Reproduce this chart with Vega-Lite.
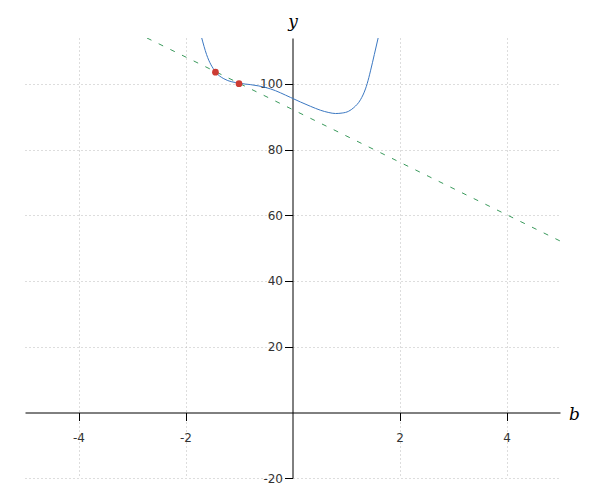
{
  "$schema": "https://vega.github.io/schema/vega-lite/v6.json",
  "width": 535,
  "height": 440,
  "autosize": {"type": "none"},
  "padding": {"left": 25, "top": 38, "right": 40, "bottom": 22},
  "background": "white",
  "config": {
    "view": {"stroke": null},
    "axis": {
      "gridColor": "#bbbbbb",
      "gridDash": [1, 3],
      "gridWidth": 1,
      "domainColor": "#000000",
      "tickColor": "#000000",
      "labelColor": "#333333",
      "labelFont": "DejaVu Sans",
      "labelFontSize": 12,
      "titleFont": "DejaVu Serif",
      "titleFontStyle": "italic",
      "titleFontWeight": "normal",
      "titleFontSize": 17,
      "titleColor": "#000000"
    }
  },
  "datasets": {
    "curve": [
      {"x": -1.70, "y": 114.2},
      {"x": -1.607, "y": 109.0},
      {"x": -1.439, "y": 103.7},
      {"x": -1.284, "y": 101.6},
      {"x": -0.985, "y": 100.2},
      {"x": -0.785, "y": 99.8},
      {"x": -0.630, "y": 99.4},
      {"x": -0.411, "y": 98.5},
      {"x": -0.037, "y": 95.9},
      {"x": 0.150, "y": 94.5},
      {"x": 0.336, "y": 93.2},
      {"x": 0.523, "y": 92.0},
      {"x": 0.679, "y": 91.3},
      {"x": 0.804, "y": 91.0},
      {"x": 0.929, "y": 91.15},
      {"x": 1.050, "y": 91.7},
      {"x": 1.146, "y": 92.8},
      {"x": 1.271, "y": 95.2},
      {"x": 1.364, "y": 98.5},
      {"x": 1.396, "y": 100.1},
      {"x": 1.458, "y": 104.0},
      {"x": 1.530, "y": 109.0},
      {"x": 1.602, "y": 114.1}
    ],
    "secant": [
      {"x": -2.72, "y": 114.0},
      {"x": 5.0, "y": 52.2}
    ],
    "pts": [
      {"x": -1.44, "y": 103.6},
      {"x": -1.0, "y": 100.1}
    ]
  },
  "layer": [
    {
      "data": {"name": "secant"},
      "mark": {"type": "line", "color": "#3a9a5c", "strokeWidth": 1, "strokeDash": [5, 8], "clip": true},
      "encoding": {
        "x": {
          "field": "x", "type": "quantitative",
          "scale": {"domain": [-5, 5], "nice": false, "zero": false},
          "axis": {
            "values": [-4, -2, 2, 4],
            "labelExpr": "replace(datum.label, '−', '-')",
            "offset": -65.5,
            "tickSize": 8,
            "labelPadding": 12,
            "labelFlush": false,
            "title": "b",
            "titleX": 549,
            "titleY": 2,
            "titleAlign": "center",
            "titleBaseline": "middle",
            "titleAngle": 0
          }
        },
        "y": {
          "field": "y", "type": "quantitative",
          "scale": {"domain": [-20, 114], "nice": false, "zero": false},
          "axis": {
            "values": [-20, 20, 40, 60, 80, 100],
            "labelExpr": "replace(datum.label, '−', '-')",
            "offset": -267.5,
            "tickSize": 8,
            "labelPadding": 2,
            "title": "y",
            "titleX": 0,
            "titleY": -17,
            "titleAlign": "center",
            "titleBaseline": "middle",
            "titleAngle": 0
          }
        }
      }
    },
    {
      "data": {"name": "curve"},
      "mark": {"type": "line", "color": "#3b78c2", "strokeWidth": 1, "interpolate": "monotone", "clip": true},
      "encoding": {
        "x": {"field": "x", "type": "quantitative"},
        "y": {"field": "y", "type": "quantitative"}
      }
    },
    {
      "data": {"name": "pts"},
      "mark": {"type": "circle", "color": "#cc3b33", "opacity": 1, "size": 45},
      "encoding": {
        "x": {"field": "x", "type": "quantitative"},
        "y": {"field": "y", "type": "quantitative"}
      }
    }
  ]
}
